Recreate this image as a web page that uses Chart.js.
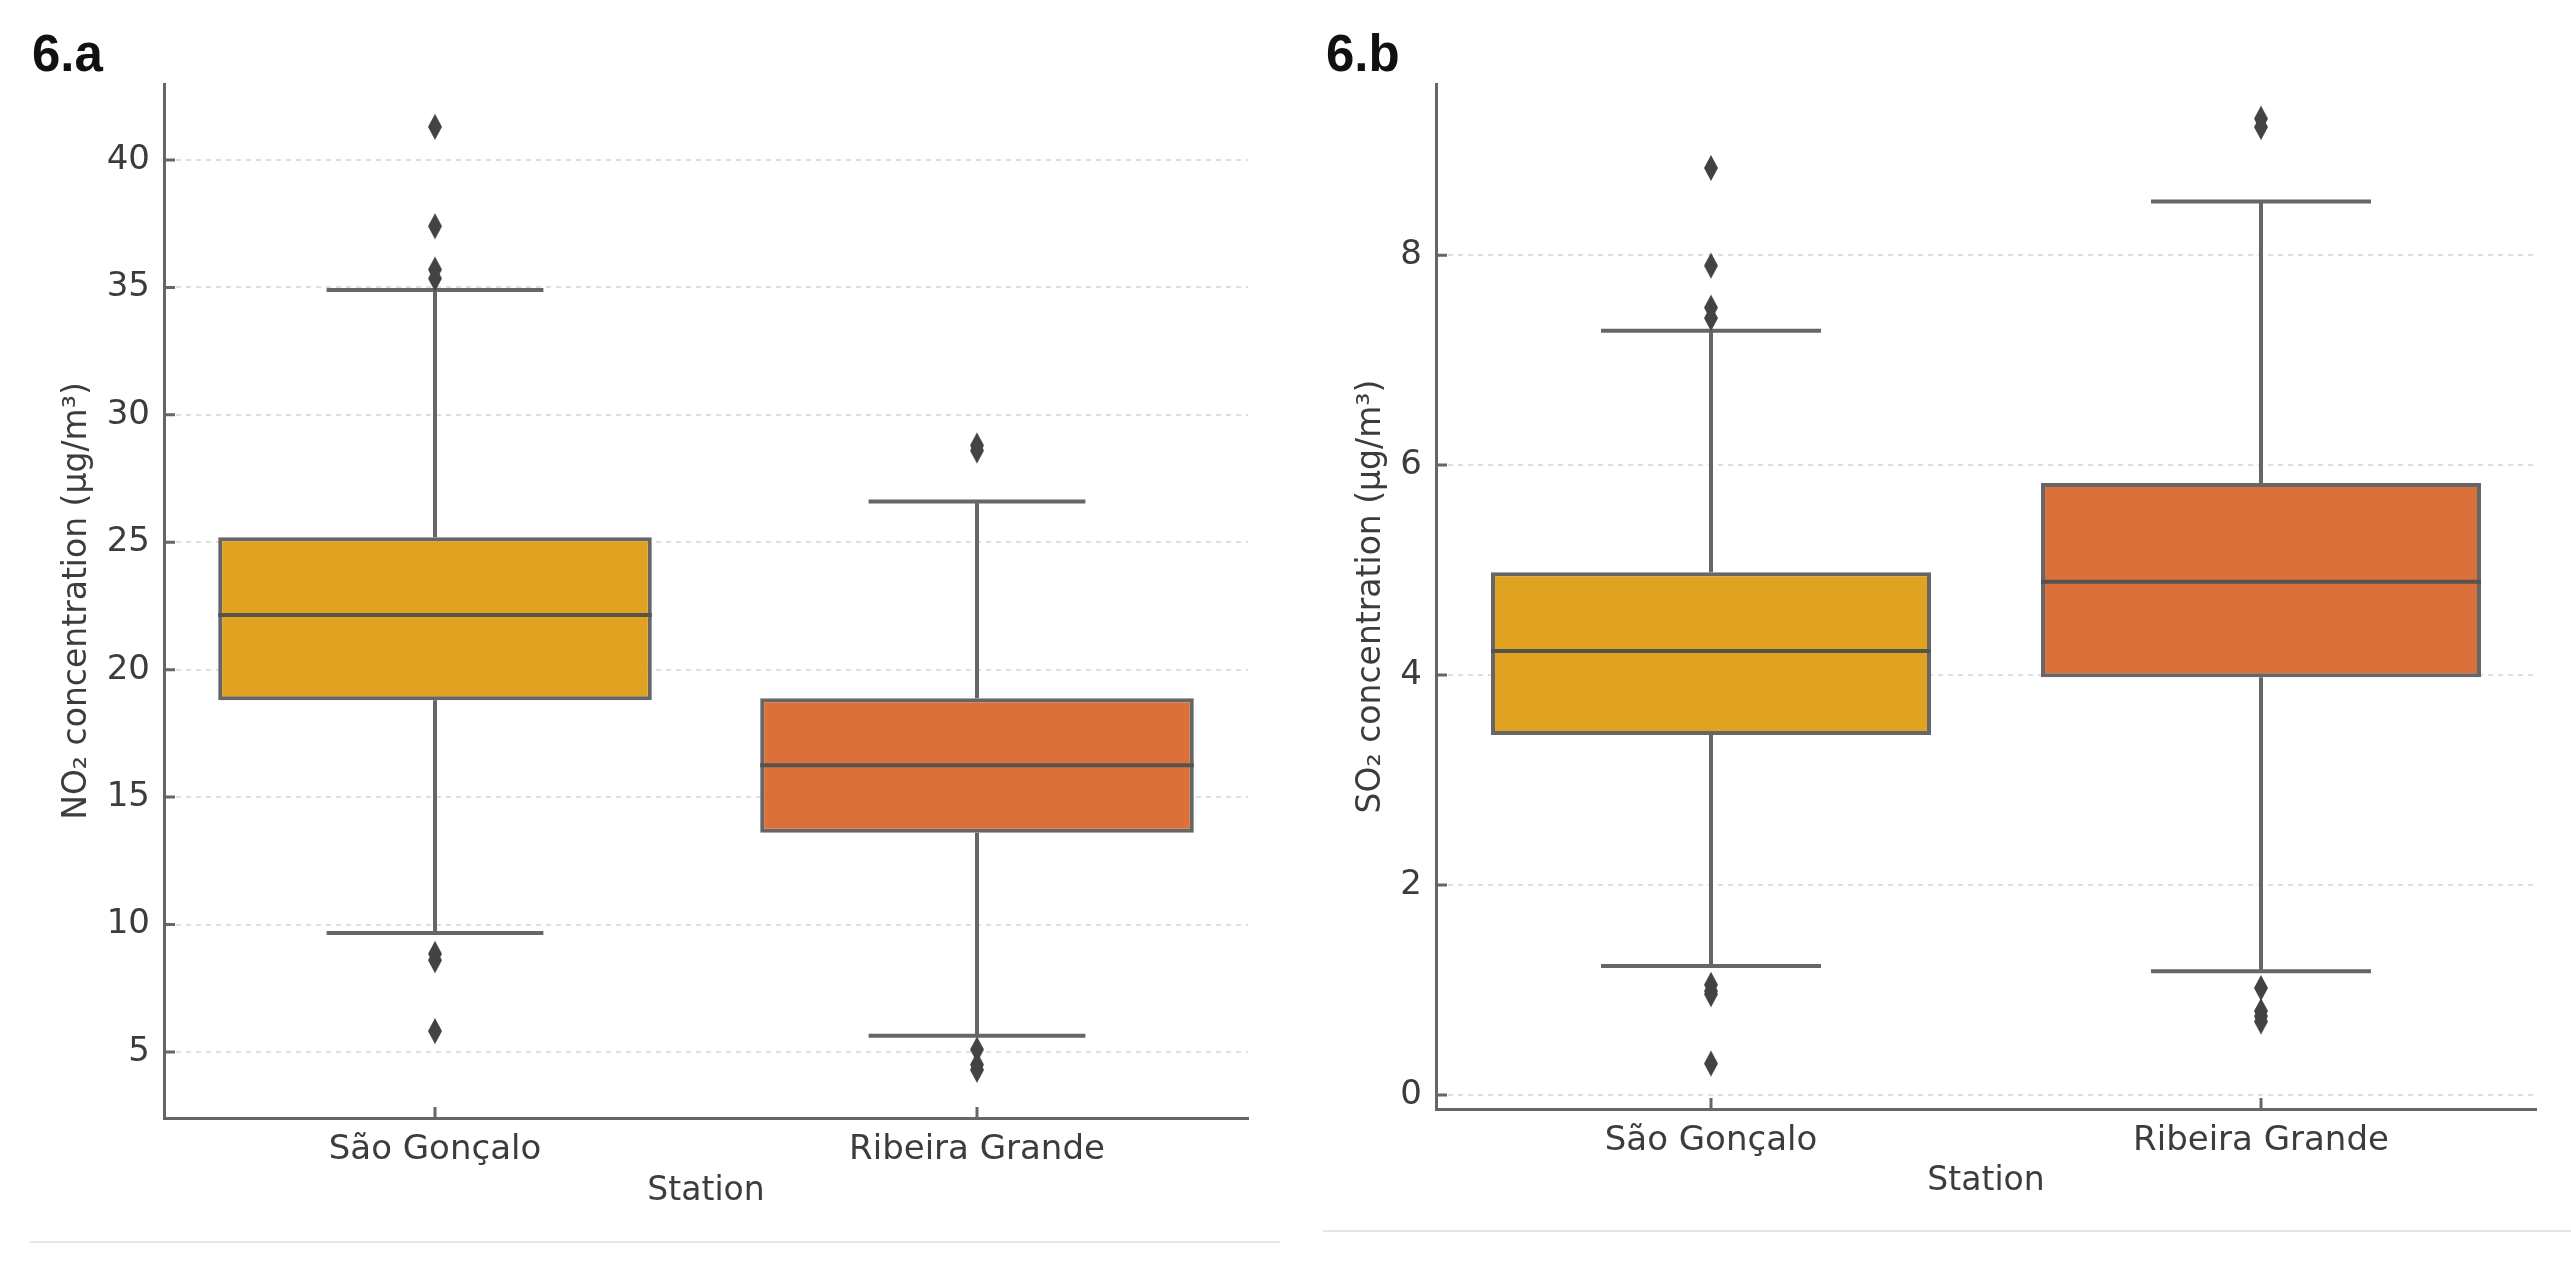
<!DOCTYPE html>
<html lang="en">
<head>
<meta charset="UTF-8">
<title>NO2 and SO2 concentration by station</title>
<script src="https://cdn.jsdelivr.net/npm/chart.js@4.4.1/dist/chart.umd.min.js"></script>
<style>
    html, body { margin:0; padding:0; background:#fff; }
    #page { position:relative; width:2571px; height:1280px; overflow:hidden; }
    #page canvas { position:absolute; top:0; }
    #chartA { left:0; }
    #chartB { left:1290px; }
    .panel-label {
        position:absolute; top:28px; line-height:1;
        font-family:"Liberation Sans", Arial, sans-serif; font-weight:bold; font-size:51px; color:#111;
    }
    .rule { position:absolute; height:0; border-top:2px solid #e6e6e6; }
</style>
</head>
<body>
<div id="page">
    <div class="panel-label" style="left:32px;">6.a</div>
    <div class="panel-label" style="left:1326px;">6.b</div>
    <canvas id="chartA" width="1290" height="1280"></canvas>
    <canvas id="chartB" width="1281" height="1280"></canvas>
    <div class="rule" style="left:30px; width:1250px; top:1241px;"></div>
    <div class="rule" style="left:1323px; width:1248px; top:1230px;"></div>
</div>

<script>
// categories
const stations = ["São Gonçalo", "Ribeira Grande"];

// 6.a - NO2 box statistics (µg/m³), one value per station
const no2WhiskerLow = [9.67, 5.64];
const no2Q1 = [18.8, 13.6];
const no2Median = [22.15, 16.25];
const no2Q3 = [25.2, 18.88];
const no2WhiskerHigh = [34.9, 26.6];
const no2OutliersSG = [41.3, 37.4, 35.7, 35.35, 8.85, 8.6, 5.82];
const no2OutliersRG = [28.8, 28.6, 5.1, 4.5, 4.3];
const no2Ticks = [5, 10, 15, 20, 25, 30, 35, 40];

// 6.b - SO2 box statistics (µg/m³)
const so2WhiskerLow = [1.23, 1.18];
const so2Q1 = [3.43, 3.98];
const so2Median = [4.23, 4.89];
const so2Q3 = [4.98, 5.83];
const so2WhiskerHigh = [7.28, 8.51];
const so2OutliersSG = [8.83, 7.9, 7.5, 7.4, 1.05, 0.99, 0.96, 0.3];
const so2OutliersRG = [9.3, 9.22, 1.02, 0.8, 0.75, 0.7];
const so2Ticks = [0, 2, 4, 6, 8];

const boxColors = ["#DFA321", "#DA703A"];
const lineColor = "#666666";
const textColor = "#3c3c3c";
const fontFamily = "'DejaVu Sans', sans-serif";

// thin diamond marker like matplotlib's 'd' flier
function makeDiamond() {
    const c = document.createElement("canvas");
    c.width = 16; c.height = 28;
    const g = c.getContext("2d");
    g.fillStyle = "#434343";
    g.beginPath();
    g.moveTo(8, 1); g.lineTo(15, 14); g.lineTo(8, 27); g.lineTo(1, 14);
    g.closePath();
    g.fill();
    return c;
}
const diamond = makeDiamond();

// whiskers, caps, medians and inward tick marks, placed with the chart's own scales
const boxParts = {
    id: "boxParts",
    beforeDatasetsDraw(chart, args, opts) {
        const {ctx, scales: {x, y}} = chart;
        const step = x.getPixelForValue(1) - x.getPixelForValue(0);
        const capHalf = step * 0.8 * 0.25;
        ctx.save();
        ctx.strokeStyle = lineColor;
        ctx.lineWidth = 4;
        stations.forEach((s, i) => {
            const cx = x.getPixelForValue(i);
            const lo = y.getPixelForValue(opts.lo[i]);
            const hi = y.getPixelForValue(opts.hi[i]);
            ctx.beginPath();
            ctx.moveTo(cx, lo); ctx.lineTo(cx, y.getPixelForValue(opts.q1[i]));
            ctx.moveTo(cx, y.getPixelForValue(opts.q3[i])); ctx.lineTo(cx, hi);
            ctx.moveTo(cx - capHalf, lo); ctx.lineTo(cx + capHalf, lo);
            ctx.moveTo(cx - capHalf, hi); ctx.lineTo(cx + capHalf, hi);
            ctx.stroke();
        });
        ctx.restore();
    },
    afterDatasetsDraw(chart, args, opts) {
        const {ctx, scales: {y}} = chart;
        const bars = chart.getDatasetMeta(0).data;
        ctx.save();
        ctx.strokeStyle = "#55534d";
        ctx.lineWidth = 4;
        bars.forEach((bar, i) => {
            const my = y.getPixelForValue(opts.median[i]);
            ctx.beginPath();
            ctx.moveTo(bar.x - bar.width / 2, my);
            ctx.lineTo(bar.x + bar.width / 2, my);
            ctx.stroke();
        });
        ctx.restore();
    },
    afterDraw(chart) {
        const {ctx, chartArea, scales: {x, y}} = chart;
        ctx.save();
        ctx.strokeStyle = lineColor;
        ctx.lineWidth = 3;
        ctx.beginPath();
        y.ticks.forEach(t => {
            const py = y.getPixelForValue(t.value);
            ctx.moveTo(chartArea.left, py); ctx.lineTo(chartArea.left + 11, py);
        });
        x.ticks.forEach((t, i) => {
            const px = x.getPixelForTick(i);
            ctx.moveTo(px, chartArea.bottom); ctx.lineTo(px, chartArea.bottom - 11);
        });
        ctx.stroke();
        ctx.restore();
    }
};

function outlierPoints(sg, rg) {
    return sg.map(v => ({x: stations[0], y: v})).concat(rg.map(v => ({x: stations[1], y: v})));
}

function makeChart(canvasId, s, layout) {
    return new Chart(document.getElementById(canvasId), {
        type: "bar",
        data: {
            labels: stations,
            datasets: [
                {
                    data: stations.map((st, i) => [s.q1[i], s.q3[i]]),
                    backgroundColor: boxColors,
                    borderColor: lineColor,
                    borderWidth: 4,
                    borderSkipped: false,
                    categoryPercentage: 0.8,
                    barPercentage: 1.0
                },
                {
                    type: "line",
                    data: s.outliers,
                    showLine: false,
                    pointStyle: diamond,
                    pointRadius: 10
                }
            ]
        },
        plugins: [boxParts],
        options: {
            responsive: false,
            animation: false,
            events: [],
            layout: { padding: { left: 0, top: 84, right: layout.right, bottom: 0 } },
            plugins: {
                legend: { display: false },
                tooltip: { enabled: false },
                boxParts: { lo: s.lo, q1: s.q1, median: s.median, q3: s.q3, hi: s.hi }
            },
            scales: {
                x: {
                    type: "category",
                    offset: true,
                    grid: { display: false },
                    border: { display: true, color: lineColor, width: 3 },
                    ticks: { color: textColor, padding: 4, font: { family: fontFamily, size: 34 } },
                    title: {
                        display: true, text: "Station", color: textColor,
                        font: { family: fontFamily, size: 33 },
                        padding: { top: 0, bottom: layout.titleBottom }
                    },
                    afterFit: scale => { scale.height = layout.xHeight; }
                },
                y: {
                    min: s.min,
                    max: s.max,
                    afterBuildTicks: scale => { scale.ticks = s.ticks.map(v => ({value: v})); },
                    grid: { color: "#dedede", lineWidth: 2, drawTicks: false },
                    border: { display: true, color: lineColor, width: 3, dash: [5, 5] },
                    ticks: { color: textColor, padding: 14, font: { family: fontFamily, size: 34 } },
                    title: {
                        display: true, text: s.yTitle, color: textColor,
                        font: { family: fontFamily, size: 33 },
                        padding: { top: layout.yTitleTop, bottom: 0 }
                    },
                    afterFit: scale => { scale.width = layout.yWidth; }
                }
            }
        }
    });
}

makeChart("chartA", {
    lo: no2WhiskerLow, q1: no2Q1, median: no2Median, q3: no2Q3, hi: no2WhiskerHigh,
    outliers: outlierPoints(no2OutliersSG, no2OutliersRG),
    ticks: no2Ticks, min: 2.41, max: 42.98,
    yTitle: "NO₂ concentration (µg/m³)"
}, { right: 42, xHeight: 162, yWidth: 164, titleBottom: 69, yTitleTop: 58 });

makeChart("chartB", {
    lo: so2WhiskerLow, q1: so2Q1, median: so2Median, q3: so2Q3, hi: so2WhiskerHigh,
    outliers: outlierPoints(so2OutliersSG, so2OutliersRG),
    ticks: so2Ticks, min: -0.133, max: 9.63,
    yTitle: "SO₂ concentration (µg/m³)"
}, { right: 35, xHeight: 171, yWidth: 146, titleBottom: 79, yTitleTop: 62 });
</script>
</body>
</html>
